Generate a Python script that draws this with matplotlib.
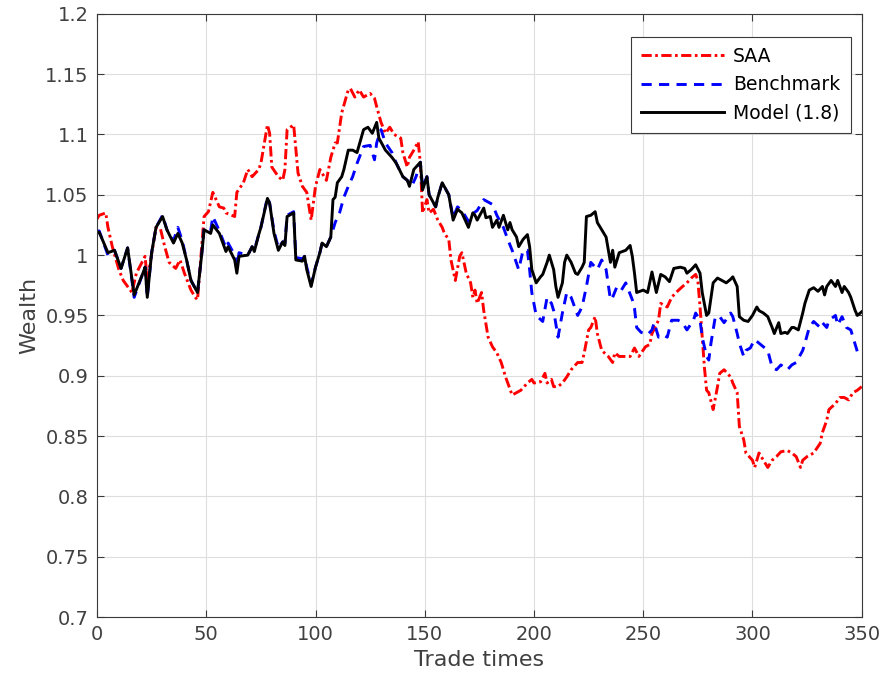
import numpy as np
import matplotlib
matplotlib.use("Agg")
import matplotlib.pyplot as plt

# Trade times / wealth
saa_t = [0, 1, 4, 5, 7, 10, 12, 16, 18, 22, 23, 27, 29, 31, 33, 36, 38, 40, 43, 45, 46, 49, 51, 53, 55, 56, 58, 59,
         63, 64, 67, 69, 70, 71, 74, 75, 78, 79, 80, 83, 85, 86, 87, 90, 92, 94, 96, 98, 100, 102, 105, 107, 109,
         110, 112, 115, 116, 118, 120, 122, 125, 127, 128, 130, 132, 134, 136, 139, 140, 142, 143, 145, 147, 148,
         149, 151, 152, 154, 156, 158, 159, 161, 162, 164, 166, 167, 169, 171, 172, 173, 174, 176, 177, 179, 181,
         183, 185, 187, 188, 190, 192, 194, 197, 199, 200, 203, 205, 206, 208, 209, 211, 213, 215, 217, 220, 222,
         223, 225, 226, 228, 229, 231, 234, 236, 237, 239, 242, 244, 246, 248, 251, 253, 254, 257, 258, 261, 263,
         265, 268, 270, 272, 274, 275, 276, 277, 278, 279, 280, 282, 284, 285, 287, 290, 291, 293, 294, 296, 297,
         300, 301, 303, 305, 307, 309, 311, 313, 316, 318, 320, 322, 323, 325, 328, 331, 332, 334, 335, 338, 340,
         342, 344, 346, 348, 350]
saa_w = [1.030, 1.033, 1.035, 1.023, 1.007, 0.988, 0.979, 0.969, 0.985, 0.999, 0.979, 1.023, 1.022, 1.007, 0.994,
         0.989, 0.996, 0.985, 0.971, 0.965, 0.963, 1.032, 1.036, 1.052, 1.044, 1.040, 1.039, 1.035,
         1.032, 1.052, 1.060, 1.071, 1.068, 1.065, 1.071, 1.076, 1.108, 1.101, 1.073, 1.065, 1.062, 1.071, 1.104,
         1.108, 1.068, 1.057, 1.052, 1.029, 1.057, 1.071, 1.062, 1.081, 1.093,
         1.093, 1.118, 1.137, 1.138, 1.131, 1.137, 1.131, 1.134, 1.130, 1.123, 1.110, 1.101, 1.106, 1.100, 1.097,
         1.085, 1.073, 1.081, 1.087, 1.094, 1.076,
         1.035, 1.046, 1.035, 1.038, 1.029, 1.023, 1.018, 1.013, 0.996, 0.979, 0.999, 1.002, 0.985, 0.977, 0.965,
         0.971, 0.960, 0.969, 0.954, 0.932, 0.924,
         0.919, 0.911, 0.899, 0.894, 0.884, 0.886, 0.888, 0.894, 0.897, 0.894, 0.895, 0.902, 0.894, 0.897, 0.891,
         0.891, 0.894, 0.899, 0.905, 0.911, 0.911,
         0.919, 0.938, 0.940, 0.949, 0.935, 0.921, 0.916, 0.911, 0.919, 0.916, 0.916, 0.916, 0.923, 0.916, 0.924,
         0.926, 0.935, 0.946, 0.960, 0.957, 0.965,
         0.969, 0.974, 0.977, 0.981, 0.984, 0.979, 0.957, 0.932, 0.907, 0.888, 0.886, 0.872, 0.891, 0.902, 0.905,
         0.899, 0.894, 0.886, 0.858, 0.847, 0.836,
         0.830, 0.824, 0.836, 0.830, 0.824, 0.830, 0.833, 0.837, 0.838, 0.836, 0.833, 0.824, 0.830, 0.833, 0.836,
         0.844, 0.853, 0.863, 0.872, 0.877, 0.882,
         0.882, 0.880, 0.886, 0.888, 0.891]

bench_t = [0, 1, 5, 8, 11, 14, 17, 21, 22, 23, 25, 27, 30, 32, 35, 37, 39, 41, 43, 46, 48, 49, 52, 53, 56, 59, 60,
           63, 64, 65, 69, 71, 72, 74, 75, 78, 79, 81, 83, 85, 86, 87, 90, 91, 94, 95, 96, 98, 100, 102, 103, 105,
           107, 109, 111, 113, 115, 117, 119, 122, 125, 127, 128, 130, 132, 135, 137, 140, 142, 144, 146, 148, 149,
           151, 152, 155, 156, 158, 161, 163, 165, 167, 170, 171, 174, 177, 181, 183, 186, 188, 190, 193, 195, 197,
           198, 199, 201, 204, 206, 208, 209, 211, 213, 215, 217, 220, 222, 224, 226, 228, 229, 230, 231, 233, 235,
           236, 238, 240, 242, 245, 246, 247, 249, 252, 254, 255, 257, 259, 261, 263, 266, 268, 270, 273, 274, 276,
           277, 279, 280, 281, 283, 285, 287, 290, 291, 293, 294, 296, 297, 299, 301, 303, 305, 307, 309, 311, 313,
           316, 318, 320, 323, 324, 326, 328, 331, 332, 334, 335, 338, 339, 341, 343, 345, 346, 348, 350]
bench_w = [1.020, 1.020, 1.000, 1.004, 0.989, 1.006, 0.965, 0.985, 0.990, 0.965, 1.002, 1.023, 1.033, 1.021, 1.012,
           1.023, 1.012, 0.996, 0.979, 0.969, 1.002, 1.022, 1.020, 1.032, 1.020, 1.006, 1.010,
           1.000, 0.990, 1.002, 1.000, 1.007, 1.004, 1.017, 1.023, 1.048, 1.043, 1.020, 1.006, 1.011, 1.010, 1.033,
           1.036, 0.998, 0.997, 0.999, 0.990, 0.976, 0.990, 1.002, 1.010, 1.007,
           1.015, 1.027, 1.035, 1.048, 1.057, 1.065, 1.076, 1.090, 1.091, 1.079, 1.093, 1.104, 1.093, 1.085, 1.076,
           1.065, 1.062, 1.057, 1.065, 1.077, 1.056,
           1.065, 1.050, 1.040, 1.048, 1.060, 1.050, 1.031, 1.040, 1.037, 1.028, 1.033, 1.037, 1.046, 1.042, 1.033,
           1.023, 1.013, 1.004, 0.988, 1.004, 1.004,
           0.988, 0.969, 0.950, 0.945, 0.965, 0.960, 0.954, 0.932, 0.952, 0.969, 0.965, 0.950, 0.957, 0.974, 0.994,
           0.990, 0.988, 0.992, 0.996, 0.988, 0.963,
           0.965, 0.974, 0.971, 0.977, 0.963, 0.956, 0.940, 0.936, 0.934, 0.938, 0.944, 0.932, 0.934, 0.932, 0.946,
           0.946, 0.944, 0.938, 0.946, 0.952, 0.946,
           0.932, 0.916, 0.913, 0.927, 0.949, 0.949, 0.944, 0.952, 0.949, 0.935, 0.927, 0.916, 0.921, 0.923, 0.930,
           0.927, 0.924, 0.921, 0.907, 0.905, 0.909,
           0.905, 0.909, 0.911, 0.921, 0.927, 0.940, 0.945, 0.940, 0.944, 0.940, 0.946, 0.950, 0.942, 0.949, 0.940,
           0.938, 0.932, 0.920, 0.917]

model_t = [0, 1, 5, 8, 11, 14, 17, 21, 22, 23, 25, 27, 30, 32, 35, 37, 39, 41, 43, 46, 48, 49, 52, 53, 56, 59, 60,
           63, 64, 65, 69, 71, 72, 74, 75, 78, 79, 81, 83, 85, 86, 87, 90, 91, 94, 95, 96, 98, 100, 102, 103, 105,
           107, 108, 109, 110, 112, 113, 115, 117, 119, 122, 124, 126, 128, 129, 132, 135, 137, 140, 142, 143, 145,
           146, 148, 149, 151, 152, 155, 156, 158, 161, 163, 165, 167, 170, 172, 173, 174, 177, 178, 180, 181, 183,
           184, 186, 188, 189, 190, 192, 193, 195, 197, 198, 199, 201, 203, 204, 206, 207, 209, 210, 211, 213, 214,
           215, 217, 219, 220, 222, 223, 224, 226, 228, 229, 231, 233, 235, 236, 237, 239, 242, 244, 245, 246, 247,
           250, 252, 254, 256, 258, 260, 262, 264, 267, 269, 270, 272, 274, 276, 277, 279, 280, 282, 284, 286, 288,
           290, 291, 293, 294, 296, 298, 300, 302, 303, 305, 307, 309, 310, 312, 313, 315, 316, 318, 319, 321, 323,
           324, 326, 328, 330, 332, 333, 334, 336, 338, 339, 341, 342, 344, 345, 347, 348, 350]
model_w = [1.018, 1.019, 1.002, 1.004, 0.989, 1.006, 0.967, 0.985, 0.990, 0.965, 1.002, 1.023, 1.032, 1.021, 1.010,
           1.018, 1.010, 0.996, 0.979, 0.969, 1.002, 1.021, 1.018, 1.025, 1.018, 1.003, 1.007,
           0.996, 0.985, 0.999, 1.000, 1.007, 1.003, 1.017, 1.023, 1.047, 1.043, 1.018, 1.004, 1.011, 1.008, 1.032,
           1.035, 0.996, 0.995, 0.999, 0.988, 0.974, 0.990, 1.002, 1.010, 1.007,
           1.015, 1.046, 1.048, 1.060, 1.065, 1.071, 1.087, 1.087, 1.085, 1.104, 1.106, 1.101, 1.110, 1.097, 1.087,
           1.081, 1.076, 1.065, 1.062, 1.057, 1.071,
           1.073, 1.077, 1.054, 1.065, 1.050, 1.040, 1.048, 1.060, 1.050, 1.029, 1.038, 1.035, 1.023, 1.035, 1.033,
           1.029, 1.039, 1.031, 1.032, 1.023, 1.029,
           1.023, 1.033, 1.021, 1.027, 1.021, 1.015, 1.007, 1.013, 1.017, 1.007, 0.988, 0.977, 0.982, 0.984, 0.994,
           1.000, 0.988, 0.974, 0.965, 0.977, 0.994,
           1.000, 0.994, 0.985, 0.984, 0.990, 0.994, 1.032, 1.033, 1.036, 1.027, 1.021, 1.015, 0.994, 1.004, 0.990,
           1.002, 1.004, 1.008, 0.999, 0.985, 0.969,
           0.971, 0.969, 0.986, 0.969, 0.984, 0.982, 0.978, 0.989, 0.990, 0.989, 0.985, 0.988, 0.992, 0.985, 0.969,
           0.950, 0.952, 0.977, 0.981, 0.979, 0.977,
           0.980, 0.982, 0.974, 0.949, 0.946, 0.945, 0.950, 0.957, 0.954, 0.952, 0.949, 0.940, 0.935, 0.944, 0.935,
           0.936, 0.935, 0.940, 0.940, 0.938, 0.952,
           0.960, 0.971, 0.973, 0.970, 0.974, 0.967, 0.974, 0.979, 0.974, 0.979, 0.969, 0.974, 0.969, 0.965, 0.954,
           0.950, 0.953]

plt.rcParams['font.family'] = ['DejaVu Sans']

fig = plt.figure(figsize=(8.82, 6.91), dpi=100)
ax = fig.add_axes([0.110, 0.107, 0.867, 0.873])

ax.plot(saa_t, saa_w, color='red', linestyle=(0, (3.5, 1.2, 0.9, 1.2)), linewidth=2.1, label='SAA')
ax.plot(bench_t, bench_w, color='blue', linestyle=(0, (3.5, 2.5)), linewidth=2.1, label='Benchmark')
ax.plot(model_t, model_w, color='black', linestyle='-', linewidth=2.1, label='Model (1.8)')

ax.set_xlim(0, 350)
ax.set_ylim(0.7, 1.2)
ax.set_xticks(np.arange(0, 351, 50))
ax.set_yticks(np.arange(0.7, 1.2001, 0.05))
ax.set_yticklabels(['0.7', '0.75', '0.8', '0.85', '0.9', '0.95', '1', '1.05', '1.1', '1.15', '1.2'])

ax.grid(True, color='#dedede', linewidth=0.8)
ax.set_axisbelow(True)
for s in ax.spines.values():
    s.set_color('#3a3a3a')
    s.set_linewidth(0.8)
ax.tick_params(direction='in', length=5, width=0.8, colors='#3a3a3a', labelsize=14, pad=6,
               top=True, right=True)
ax.tick_params(axis='both', labelcolor='#404040')

ax.set_xlabel('Trade times', fontsize=16, color='#404040')
ax.set_ylabel('Wealth', fontsize=16, color='#404040')

leg = ax.legend(loc='upper right', bbox_to_anchor=(0.9856, 0.962), borderaxespad=0, fontsize=13.5,
                handlelength=4.4, fancybox=False, framealpha=1, edgecolor='#3a3a3a', borderpad=0.55,
                labelspacing=0.5, handletextpad=0.5)
leg.get_frame().set_linewidth(0.8)

fig.savefig('out.png', dpi=100)
